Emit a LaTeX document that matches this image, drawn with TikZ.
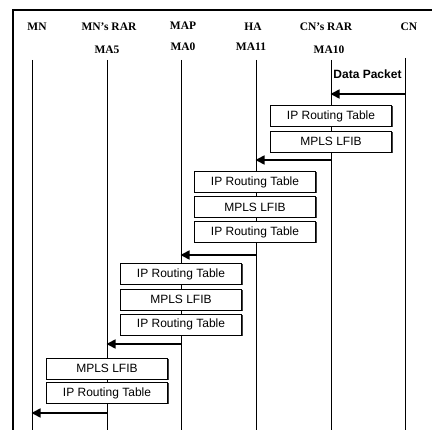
\documentclass[tikz,border=0pt]{standalone}
\usepackage{fontspec}
\setmainfont{Liberation Serif}
\newfontfamily\tablefont{Liberation Sans}
\usetikzlibrary{arrows.meta,shadows}

\tikzset{
  hdr/.style={font=\bfseries\fontsize{11.5}{13}\selectfont, inner sep=0pt, anchor=center},
  lifeline/.style={line width=1pt},
  msg/.style={line width=1.6pt, -{Triangle[length=9pt,width=9pt]}, shorten >=-0.5pt},
  tablebox/.style={draw, line width=0.8pt, fill=white, minimum width=121pt, minimum height=21pt,
    inner sep=0pt, font=\tablefont\fontsize{12}{14}\selectfont,
    drop shadow={shadow xshift=1pt, shadow yshift=-1pt, fill=black!75, opacity=1}},
  frameline/.style={line width=1.3pt}
}

\begin{document}
\begin{tikzpicture}[x=1pt, y=-1pt]
  \useasboundingbox (0,0) rectangle (432,430);

  % outer frame (top and left edges)
  \draw[frameline] (13,431) -- (13,10) -- (433,10);

  % participants
  \node[hdr] (hMN)   at (37,27)  {MN};
  \node[hdr] (hMNR)  at (109,27) {MN’s RAR};
  \node[hdr] (hMAP)  at (183,26) {MAP};
  \node[hdr] (hHA)   at (253,27) {HA};
  \node[hdr] (hCNR)  at (326,27) {CN’s RAR};
  \node[hdr] (hCN)   at (409,27) {CN};
  \node[hdr] (aMNR)  at (107,50) {MA5};
  \node[hdr] (aMAP)  at (183,47) {MA0};
  \node[hdr] (aHA)   at (251,47) {MA11};
  \node[hdr] (aCNR)  at (329,50) {MA10};

  % lifelines
  \foreach \n/\x in {MN/32, MNR/107, MAP/181, HA/256, CNR/331, CN/405}{
    \coordinate (t\n) at (\x,60);
    \coordinate (b\n) at (\x,431);
    \draw[lifeline] (t\n) -- (b\n);
  }
  \draw[lifeline] (405,58) -- (tCN);

  % message levels
  \coordinate (y1) at (0,94);
  \coordinate (y2) at (0,160);
  \coordinate (y3) at (0,255);
  \coordinate (y4) at (0,344);
  \coordinate (y5) at (0,413);

  \node[font=\tablefont\bfseries\fontsize{12}{14}\selectfont, inner sep=0pt] (dp) at (367.5,74) {Data Packet};

  % CN -> CN's RAR
  \draw[msg] (tCN |- y1) -- (tCNR |- y1);
  \node[tablebox] (c1) at (331,116)   {IP Routing Table};
  \node[tablebox] (c2) at (331,141.5) {MPLS LFIB};

  % CN's RAR -> HA
  \draw[msg] (tCNR |- y2) -- (tHA |- y2);
  \node[tablebox] (h1) at (255,182) {IP Routing Table};
  \node[tablebox] (h2) at (255,207) {MPLS LFIB};
  \node[tablebox] (h3) at (255,232) {IP Routing Table};

  % HA -> MAP
  \draw[msg] (tHA |- y3) -- (tMAP |- y3);
  \node[tablebox] (p1) at (181,274) {IP Routing Table};
  \node[tablebox] (p2) at (181,299.5) {MPLS LFIB};
  \node[tablebox] (p3) at (181,324.5) {IP Routing Table};

  % MAP -> MN's RAR
  \draw[msg] (tMAP |- y4) -- (tMNR |- y4);
  \node[tablebox] (r1) at (107,368.5) {MPLS LFIB};
  \node[tablebox] (r2) at (107,393)   {IP Routing Table};

  % MN's RAR -> MN
  \draw[msg] (tMNR |- y5) -- (tMN |- y5);
\end{tikzpicture}
\end{document}
